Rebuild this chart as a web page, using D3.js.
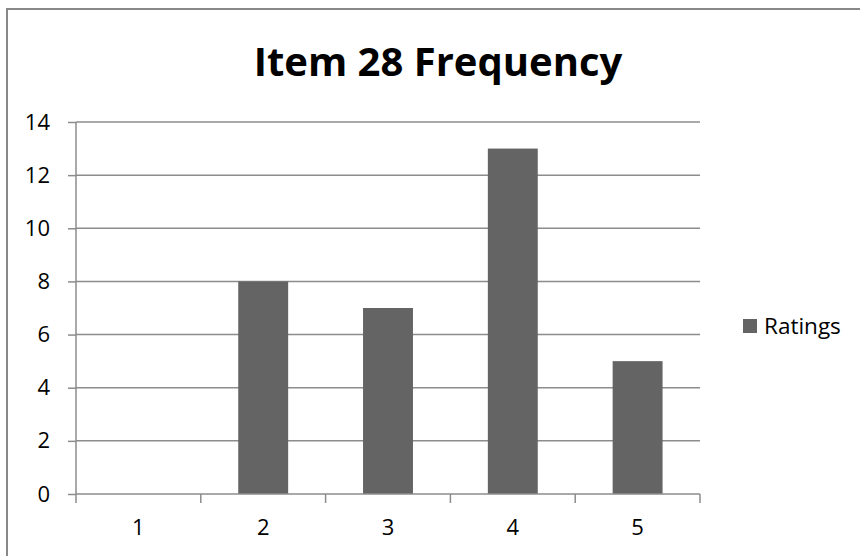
<!DOCTYPE html>
<html>
<head>
<meta charset="utf-8">
<script src="https://cdn.jsdelivr.net/npm/d3@7"></script>
<style>
  html, body { margin: 0; padding: 0; background: #fff; }
  svg { display: block; }
</style>
</head>
<body>
<script>
const categories = ["1", "2", "3", "4", "5"];
const ratings = [0, 8, 7, 13, 5];
const yTicks = [0, 2, 4, 6, 8, 10, 12, 14];
const titleText = "Item 28 Frequency";
const seriesName = "Ratings";

(function () {
const W = 860, H = 556;
const svg = d3.select("body").append("svg").attr("width", W).attr("height", H);
const font = "'Open Sans', sans-serif";

// outer border
svg.append("rect").attr("x", 7).attr("y", 9).attr("width", 900).attr("height", 600)
  .attr("fill", "none").attr("stroke", "#888").attr("stroke-width", 2);

const pLeft = 76, pRight = 700, pTop = 122, pBottom = 494;
const xBand = d3.scaleBand().domain(categories).range([pLeft, pRight]);
const y = d3.scaleLinear().domain([0, 14]).range([pBottom, pTop]);

// gridlines
svg.append("g").selectAll("line").data(yTicks.filter(d => d > 0)).join("line")
  .attr("x1", pLeft).attr("x2", pRight)
  .attr("y1", d => y(d)).attr("y2", d => y(d))
  .attr("stroke", "#8c8c8c").attr("stroke-width", 1.5);

// bars
svg.append("g").selectAll("rect").data(categories).join("rect")
  .attr("x", (c) => xBand(c) + xBand.bandwidth() * 0.3)
  .attr("width", xBand.bandwidth() * 0.4)
  .attr("y", (c, i) => y(ratings[i]))
  .attr("height", (c, i) => y(0) - y(ratings[i]))
  .attr("fill", "#646464");

// y axis
const yAxis = d3.axisLeft(y).tickValues(yTicks).tickSize(8).tickPadding(18);
const gy = svg.append("g").attr("transform", `translate(${pLeft},0)`).call(yAxis);
gy.select(".domain").attr("stroke", "#8c8c8c").attr("stroke-width", 1.5).attr("d", `M0,${pTop}V${pBottom}`);
gy.selectAll(".tick line").attr("stroke", "#8c8c8c").attr("stroke-width", 1.5);
gy.selectAll(".tick text").attr("font-family", font).attr("font-size", 22).attr("fill", "#000");

// x axis
const xAxis = d3.axisBottom(xBand).tickSize(0).tickPadding(25);
const gx = svg.append("g").attr("transform", `translate(0,${pBottom})`).call(xAxis);
gx.select(".domain").attr("stroke", "#8c8c8c").attr("stroke-width", 1.5).attr("d", `M${pLeft},0H${pRight}`);
gx.selectAll(".tick text").attr("font-family", font).attr("font-size", 22).attr("fill", "#000");
// category boundary ticks
const bounds = categories.map(c => xBand(c)).concat([pRight]);
svg.append("g").selectAll("line").data(bounds).join("line")
  .attr("x1", d => d).attr("x2", d => d).attr("y1", pBottom).attr("y2", pBottom + 9)
  .attr("stroke", "#8c8c8c").attr("stroke-width", 1.5);

// title
svg.append("text").attr("x", 438).attr("y", 76).attr("text-anchor", "middle")
  .attr("font-family", font).attr("font-weight", "bold").attr("font-size", 40)
  .attr("fill", "#000").text(titleText);

// legend
svg.append("rect").attr("x", 743).attr("y", 319).attr("width", 14).attr("height", 14).attr("fill", "#646464");
svg.append("text").attr("x", 764).attr("y", 334).attr("font-family", font).attr("font-size", 22.5)
  .attr("fill", "#000").text(seriesName);
})();
</script>
</body>
</html>
